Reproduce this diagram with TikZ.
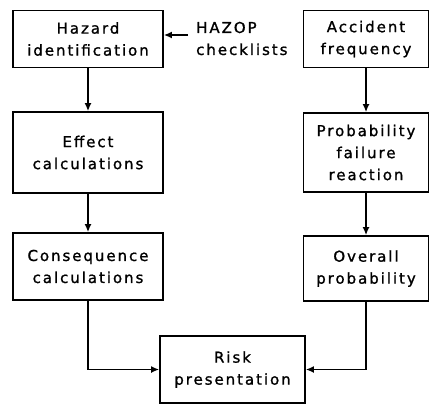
\documentclass[tikz,border=0pt]{standalone}
\usepackage{fontspec}
\newfontfamily\lbl[LetterSpace=13,FakeBold=1.2]{DejaVu Sans}
\usetikzlibrary{arrows.meta}
\begin{document}
\begin{tikzpicture}[x=1pt,y=-1pt,
  box/.style={draw,line width=1.7pt,inner sep=0pt,align=center,
    font={\lbl\fontsize{15}{22}\selectfont}},
  lbltxt/.style={inner sep=0pt,align=left,font={\lbl\fontsize{15}{22}\selectfont}},
  conn/.style={line width=1.7pt,-{Latex[length=8pt,width=7pt]}}]
\useasboundingbox (0,0) rectangle (430,408);
\node[box,minimum width=150pt,minimum height=57pt] (haz) at (88,39) {Hazard\\identification};
\node[box,minimum width=150pt,minimum height=81pt] (eff) at (88,152.5) {Effect\\calculations};
\node[box,minimum width=150pt,minimum height=67pt] (con) at (88,266.5) {Consequence\\calculations};
\node[box,minimum width=125pt,minimum height=57pt] (acc) at (366,39) {Accident\\frequency};
\node[box,minimum width=125pt,minimum height=79pt] (pro) at (366,152.5) {Probability\\failure\\reaction};
\node[box,minimum width=125pt,minimum height=65pt] (ove) at (366,268.5) {Overall\\probability};
\node[box,minimum width=145pt,minimum height=67pt] (ris) at (232.5,369.5) {Risk\\presentation};
\node[lbltxt,anchor=west] (hzp) at (196,38.5) {HAZOP\\checklists};
\coordinate (hs) at (188,35);
\draw[conn] (hs) -- (hs -| haz.east);
\draw[conn] (haz) -- (eff);
\draw[conn] (eff) -- (con);
\draw[conn] (acc) -- (pro);
\draw[conn] (pro) -- (ove);
\draw[conn] (con.south) |- (ris.west);
\draw[conn] (ove.south) |- (ris.east);
\end{tikzpicture}
\end{document}
